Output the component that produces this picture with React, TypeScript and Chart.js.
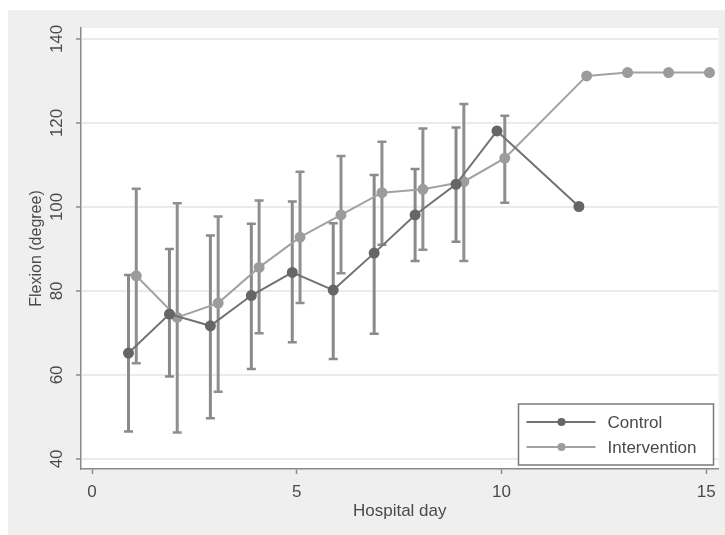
import React, { useEffect, useRef } from 'react';
import { Chart, registerables } from 'chart.js';

Chart.register(...registerables);

// ---- data ----
const controlDays = [1, 2, 3, 4, 5, 6, 7, 8, 9, 10, 12];
const controlMean = [65.2, 74.5, 71.7, 78.9, 84.4, 80.2, 89.0, 98.1, 105.4, 118.1, 100.1];
const controlLow = [46.5, 59.6, 49.7, 61.4, 67.8, 63.8, 69.8, 87.1, 91.7, null, null];
const controlHigh = [83.8, 90.0, 93.2, 96.0, 101.3, 96.1, 107.6, 109.0, 118.9, null, null];

const interventionDays = [1, 2, 3, 4, 5, 6, 7, 8, 9, 10, 12, 13, 14, 15];
const interventionMean = [83.6, 73.7, 77.1, 85.6, 92.8, 98.1, 103.4, 104.2, 106.0, 111.6, 131.2, 132.0, 132.0, 132.0];
const interventionLow = [62.8, 46.3, 56.0, 69.9, 77.1, 84.2, 91.0, 89.8, 87.1, 101.0, null, null, null, null];
const interventionHigh = [104.3, 100.9, 97.7, 101.5, 108.4, 112.1, 115.5, 118.7, 124.5, 121.7, null, null, null, null];

const xTickValues = [0, 5, 10, 15];
const yTickValues = [40, 60, 80, 100, 120, 140];

// horizontal offset of each group around the day (as in the original figure)
const controlShift = -0.11;
const interventionShift = 0.08;

const FONT = "'Liberation Sans', Arial, sans-serif";
const TEXT = '#4a4a4a';
const AXIS = '#8a8a8a';

const build = (days: number[], mean: number[], lo: (number | null)[], hi: (number | null)[], shift: number) =>
  days.map((d, i) => ({ x: d + shift, y: mean[i], lo: lo[i], hi: hi[i] }));

const bgPlugin = {
  id: 'bg',
  beforeDraw(chart: any) {
    const { ctx, chartArea, width, height } = chart;
    ctx.save();
    ctx.fillStyle = '#efefef';
    ctx.fillRect(0, 0, width, height);
    ctx.fillStyle = '#ffffff';
    ctx.fillRect(chartArea.left, chartArea.top, chartArea.right - chartArea.left, chartArea.bottom - chartArea.top);
    ctx.restore();
  },
};

const errorBarPlugin = {
  id: 'errorBars',
  beforeDatasetsDraw(chart: any) {
    const { ctx, scales } = chart;
    const xs = scales.x;
    const ys = scales.y;
    chart.data.datasets.forEach((ds: any) => {
      ds.data.forEach((p: any) => {
        if (p.lo == null || p.hi == null) return;
        const px = xs.getPixelForValue(p.x);
        const yl = ys.getPixelForValue(p.lo);
        const yh = ys.getPixelForValue(p.hi);
        ctx.save();
        ctx.strokeStyle = ds.errorColor;
        ctx.lineWidth = 3;
        ctx.beginPath();
        ctx.moveTo(px, yl);
        ctx.lineTo(px, yh);
        ctx.stroke();
        ctx.lineWidth = 2.5;
        ctx.beginPath();
        ctx.moveTo(px - 4.5, yl);
        ctx.lineTo(px + 4.5, yl);
        ctx.moveTo(px - 4.5, yh);
        ctx.lineTo(px + 4.5, yh);
        ctx.stroke();
        ctx.restore();
      });
    });
  },
};

const legendPlugin = {
  id: 'insideLegend',
  afterDraw(chart: any) {
    const { ctx, chartArea } = chart;
    const w = 195;
    const h = 61;
    const right = chartArea.right - 5;
    const bottom = chartArea.bottom - 4;
    const left = right - w;
    const top = bottom - h;
    ctx.save();
    ctx.fillStyle = '#ffffff';
    ctx.fillRect(left, top, w, h);
    ctx.strokeStyle = '#7a7a7a';
    ctx.lineWidth = 1.5;
    ctx.strokeRect(left, top, w, h);
    chart.data.datasets.forEach((ds: any, i: number) => {
      const cy = top + 18 + i * 25;
      ctx.strokeStyle = ds.borderColor;
      ctx.lineWidth = 2;
      ctx.beginPath();
      ctx.moveTo(left + 8, cy);
      ctx.lineTo(left + 77, cy);
      ctx.stroke();
      ctx.fillStyle = ds.pointBackgroundColor;
      ctx.beginPath();
      ctx.arc(left + 43, cy, 4, 0, Math.PI * 2);
      ctx.fill();
      ctx.fillStyle = TEXT;
      ctx.font = `17px ${FONT}`;
      ctx.textBaseline = 'middle';
      ctx.textAlign = 'left';
      ctx.fillText(ds.label, left + 89, cy + 1);
    });
    ctx.restore();
  },
};

export default function App() {
  const ref = useRef<HTMLCanvasElement | null>(null);

  useEffect(() => {
    if (!ref.current) return;
    const chart = new Chart(ref.current, {
      type: 'line',
      data: {
        datasets: [
          {
            label: 'Control',
            data: build(controlDays, controlMean, controlLow, controlHigh, controlShift),
            borderColor: '#727272',
            backgroundColor: '#666666',
            pointBackgroundColor: '#666666',
            pointBorderColor: '#666666',
            pointRadius: 4.5,
            borderWidth: 2,
            tension: 0,
            errorColor: '#8a8a8a',
          } as any,
          {
            label: 'Intervention',
            data: build(interventionDays, interventionMean, interventionLow, interventionHigh, interventionShift),
            borderColor: '#a2a2a2',
            backgroundColor: '#9c9c9c',
            pointBackgroundColor: '#9c9c9c',
            pointBorderColor: '#9c9c9c',
            pointRadius: 4.5,
            borderWidth: 2,
            tension: 0,
            errorColor: '#8f8f8f',
          } as any,
        ],
      },
      options: {
        animation: false,
        responsive: false,
        layout: { padding: { top: 18, right: 2, left: 0, bottom: 0 } },
        plugins: { legend: { display: false }, tooltip: { enabled: false } },
        scales: {
          x: {
            type: 'linear',
            min: -0.27,
            max: 15.3,
            afterBuildTicks: (s: any) => {
              s.ticks = xTickValues.map((v) => ({ value: v }));
            },
            afterFit: (s: any) => {
              s.height = 66;
            },
            grid: { drawOnChartArea: false, drawTicks: true, tickLength: 5, tickColor: AXIS, tickWidth: 1.5 },
            border: { color: AXIS, width: 1.5 },
            ticks: { color: TEXT, font: { family: FONT, size: 17 }, padding: 8, maxRotation: 0 },
            title: { display: true, text: 'Hospital day', color: TEXT, font: { family: FONT, size: 17 }, padding: { top: 0, bottom: 13 } },
          },
          y: {
            type: 'linear',
            min: 37.6,
            max: 142.6,
            afterBuildTicks: (s: any) => {
              s.ticks = yTickValues.map((v) => ({ value: v }));
            },
            afterFit: (s: any) => {
              s.width = 73;
            },
            grid: { color: '#ebebeb', lineWidth: 2, drawTicks: true, tickLength: 5, tickColor: AXIS, tickWidth: 1.5 },
            border: { color: AXIS, width: 1.5 },
            ticks: { color: TEXT, font: { family: FONT, size: 17 }, padding: 5, minRotation: 90, maxRotation: 90, crossAlign: 'center' },
            title: { display: true, text: 'Flexion (degree)', color: TEXT, font: { family: FONT, size: 16 }, padding: { top: 19, bottom: 0 } },
          },
        },
      },
      plugins: [bgPlugin, errorBarPlugin, legendPlugin],
    } as any);
    return () => chart.destroy();
  }, []);

  return (
    <div style={{ position: 'fixed', left: 8, top: 10, width: 717, height: 525 }}>
      <canvas ref={ref} width={717} height={525} style={{ display: 'block' }} />
    </div>
  );
}
